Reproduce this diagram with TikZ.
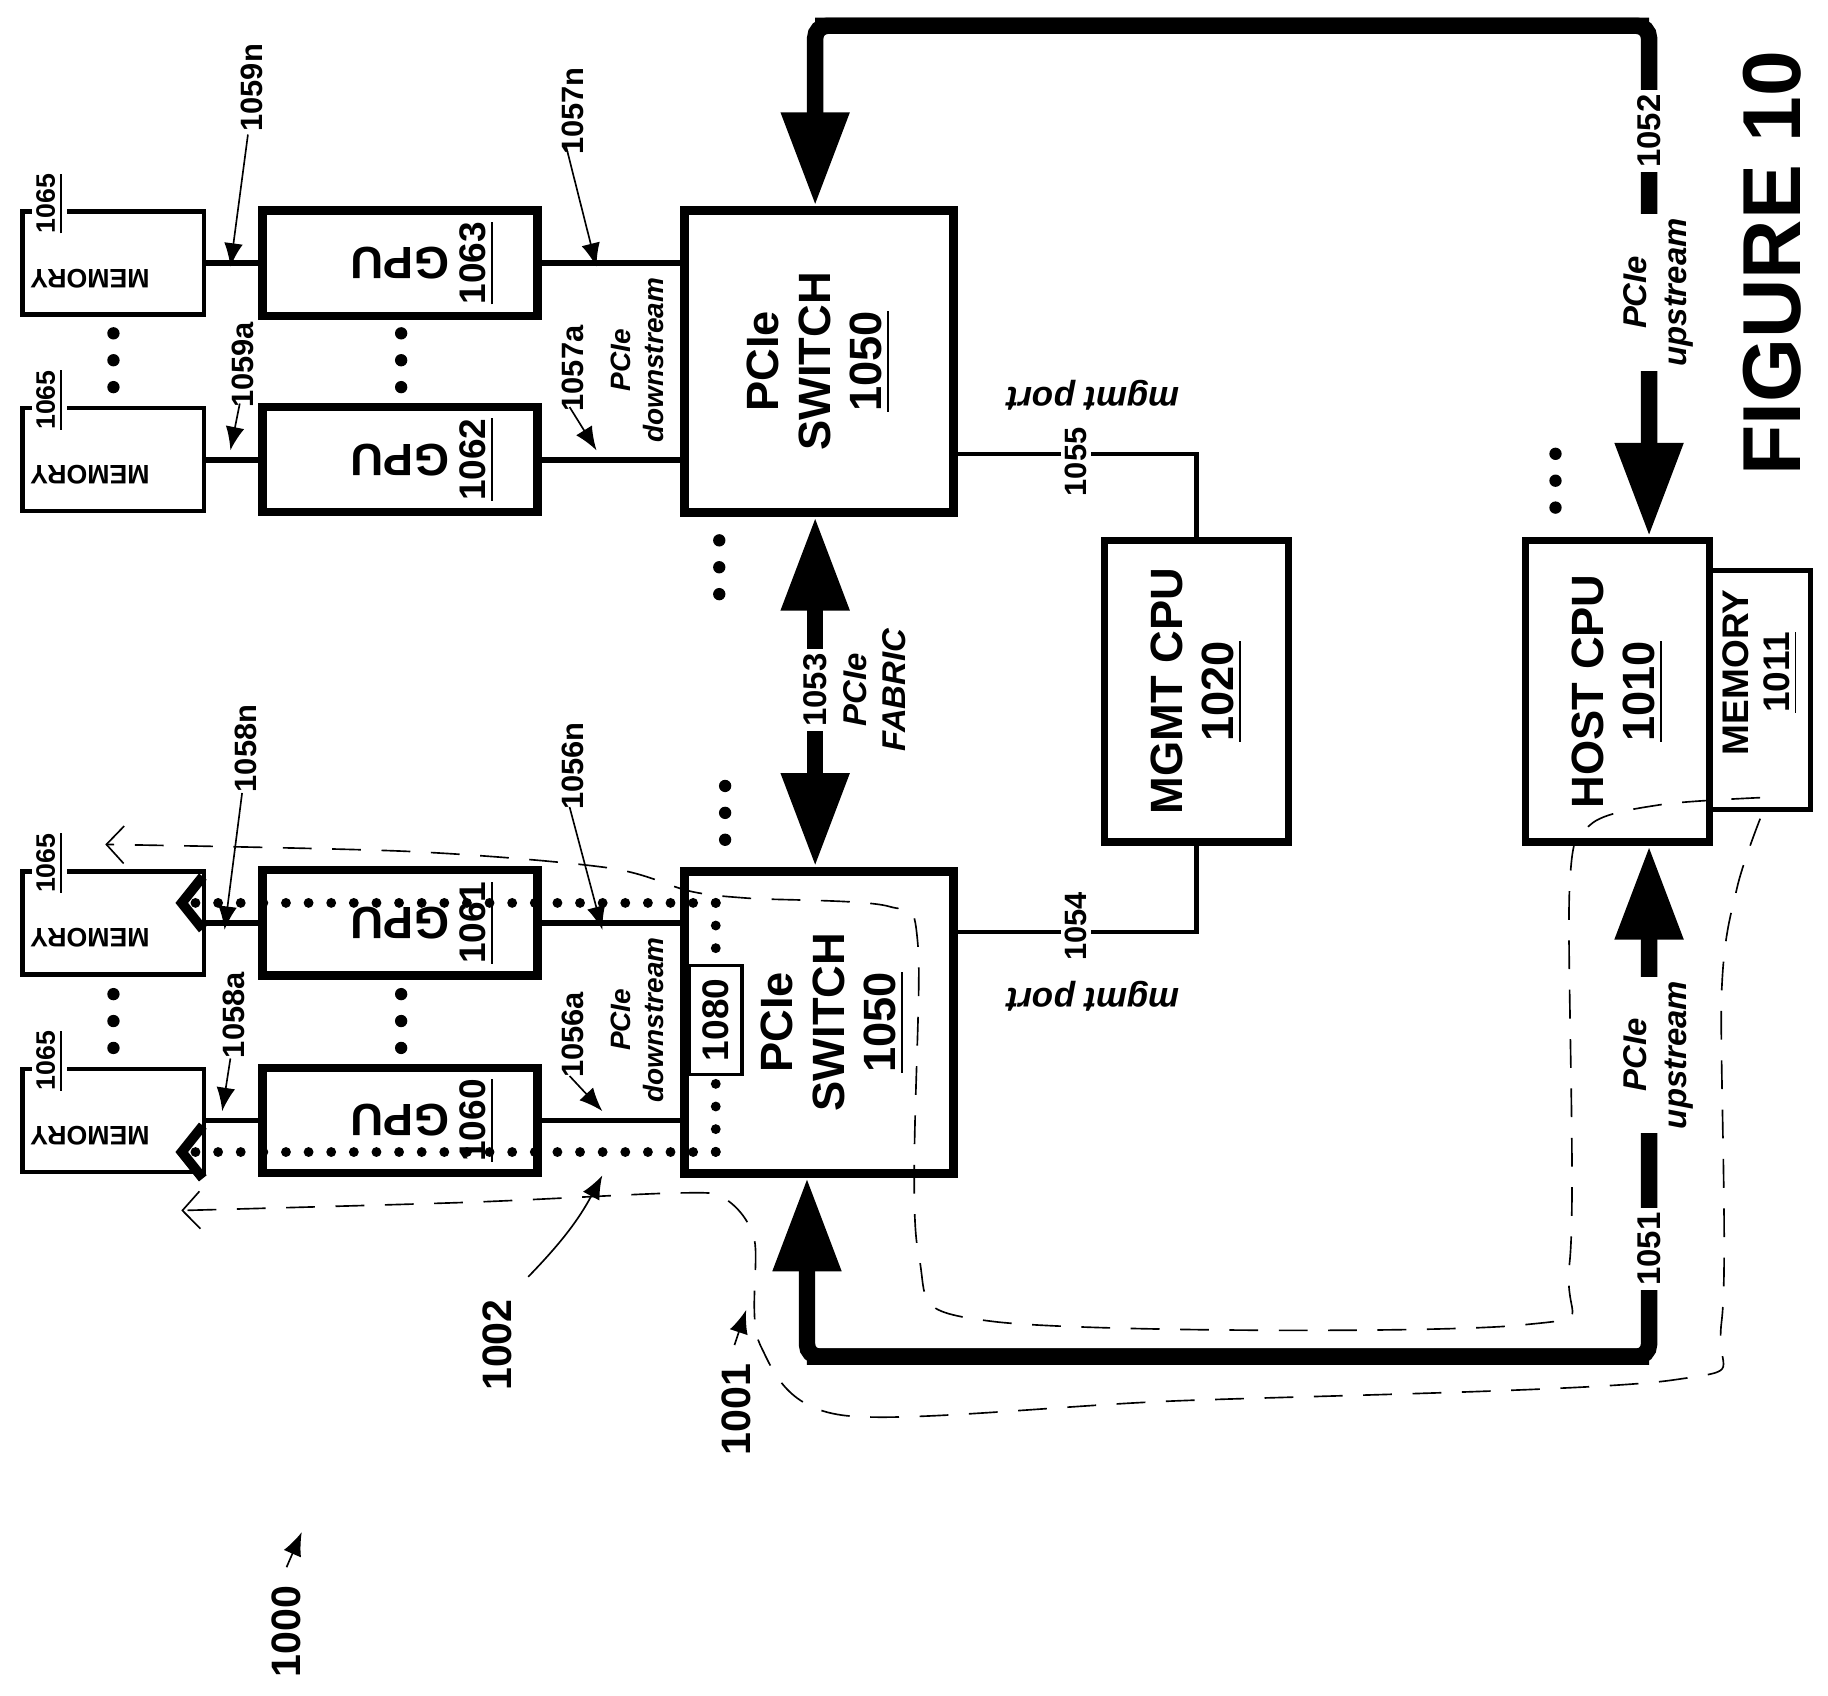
\documentclass[tikz,border=0pt]{standalone}
\usepackage{fontspec}
\setmainfont{Liberation Sans}
\usetikzlibrary{arrows.meta,positioning}

\tikzset{
  gpu/.style={draw, line width=2pt, minimum width=2.35cm, minimum height=0.9cm, inner sep=0pt},
  mem/.style={draw, line width=1.1pt, minimum width=1.55cm, minimum height=0.88cm, inner sep=0pt},
  switch/.style={draw, line width=2.2pt, minimum width=2.3cm, minimum height=2.58cm, inner sep=0pt},
  cpu/.style={draw, line width=1.8pt, minimum width=1.57cm, minimum height=2.58cm, inner sep=0pt},
  link/.style={line width=1.4pt},
  mlink/.style={line width=1pt},
  bus/.style={line width=4pt},
  bighead/.style={-{Triangle[length=0.8cm,width=0.55cm]}},
  ref/.style={font=\bfseries\fontsize{7.5}{8}\selectfont, inner sep=1pt},
  lbl/.style={font=\bfseries\itshape\fontsize{6.8}{7.8}\selectfont, align=center, inner sep=1pt},
  big/.style={font=\bfseries\fontsize{11}{12.5}\selectfont, align=center},
  pointer/.style={thin, -{Latex[length=2mm,width=1.6mm]}},
  flow/.style={thin, dash pattern=on 7pt off 5pt, -{Straight Barb[length=1.5mm,width=3.2mm]}},
  dotflow/.style={line width=2.4pt, dash pattern=on 0pt off 5.5pt, line cap=round},
  dot/.style={circle, fill, inner sep=0pt, minimum size=3pt}
}

\begin{document}
\begin{tikzpicture}[x=0.01cm, y=-0.01cm]
\useasboundingbox (0,0) rectangle (1563,1450);

% memories, GPUs and switches
\foreach \n/\y in {m3/225, m2/393, m1/789, m0/958}
  \node[mem] (\n) at (97,\y) {};
\foreach \n/\y/\num in {g3/225/1063, g2/393/1062, g1/789/1061, g0/958/1060}{
  \node[gpu] (\n) at (342,\y) {};
  \node[big, rotate=180] at (342,\y) {GPU};
  \node[rotate=90, font=\bfseries\fontsize{9}{10}\selectfont] at (408,\y) {\underline{\num}};
}
\foreach \n in {m3,m2,m1,m0}{
  \node[font=\bfseries\fontsize{6.5}{7}\selectfont, rotate=180] at ([xshift=-0.2cm,yshift=-0.13cm]\n.center) {MEMORY};
  \node[ref, fill=white, rotate=90, font=\bfseries\fontsize{6.5}{7}\selectfont] at ([xshift=0.25cm,yshift=0.05cm]\n.north west) {\underline{1065}};
}
\node[switch] (s1) at (700,309) {};
\node[switch] (s0) at (700,874) {};
\node[big, rotate=90] at (700,309) {PCIe\\SWITCH\\\underline{1050}};
\node[big, rotate=90] at (712,874) {PCIe\\SWITCH\\\underline{1050}};

\node[cpu] (mgmt) at (1023,591) {};
\node[big, rotate=90] at (1023,591) {MGMT CPU\\\underline{1020}};
\node[draw, line width=1.1pt, minimum width=0.86cm, minimum height=2.04cm] (hmem) at (1505,590) {};
\node[cpu, fill=white] (host) at (1383,591) {};
\node[big, rotate=90] at (1383,591) {HOST CPU\\\underline{1010}};
\node[font=\bfseries\fontsize{9}{10}\selectfont, rotate=90, align=center] at (1505,575) {MEMORY\\\underline{1011}};

% links
\foreach \g/\m in {g3/m3, g2/m2, g1/m1, g0/m0}{
  \draw[link] (\g.west) -- (\m.east);
}
\foreach \g/\s/\y in {g3/s1/225, g2/s1/393, g1/s0/789, g0/s0/958}{
  \draw[link] (\g.east) -- (\s.west |- 0,\y);
}
\draw[mlink] (s1.east |- 0,388) -| (mgmt.north);
\draw[mlink] (s0.east |- 0,797) -| (mgmt.south);
\node[ref, fill=white, rotate=90] at (920,395) {1055};
\node[ref, fill=white, rotate=90] at (920,792) {1054};
\node[lbl, rotate=180, font=\bfseries\itshape\fontsize{8.5}{9}\selectfont] at (935,338) {mgmt port};
\node[lbl, rotate=180, font=\bfseries\itshape\fontsize{8.5}{9}\selectfont] at (935,852) {mgmt port};

% buses
\coordinate (tl) at (697,22);
\coordinate (tr) at (1410,22);
\coordinate (bl) at (690,1160);
\coordinate (br) at (1410,1160);
\draw[bus, bighead, rounded corners=3pt] (tr) -- (tl) -- (s1.north -| tl);
\draw[bus, bighead, rounded corners=3pt] (tl) -- (tr) -- (host.north -| tr);
\draw[bus, bighead, rounded corners=3pt] (br) -- (bl) -- (s0.south -| bl);
\draw[bus, bighead, rounded corners=3pt] (bl) -- (br) -- (host.south -| br);
\draw[bus, {Triangle[length=0.8cm,width=0.55cm]}-{Triangle[length=0.8cm,width=0.55cm]}] (s1.south -| tl) -- (s0.north -| tl);
\node[ref, fill=white, rotate=90, font=\bfseries\fontsize{8}{9}\selectfont] at (1410,112) {1052};
\node[ref, fill=white, rotate=90, font=\bfseries\fontsize{8}{9}\selectfont] at (1410,1068) {1051};
\node[ref, fill=white, rotate=90, font=\bfseries\fontsize{8}{9}\selectfont] at (697,590) {1053};
\node[lbl, fill=white, rotate=90, font=\bfseries\itshape\fontsize{8}{9.5}\selectfont, minimum width=1.25cm] at (1418,250) {PCIe\\upstream};
\node[lbl, fill=white, rotate=90, font=\bfseries\itshape\fontsize{8}{9.5}\selectfont, minimum width=1.25cm] at (1418,902) {PCIe\\upstream};
\node[lbl, rotate=90, font=\bfseries\itshape\fontsize{8}{9.5}\selectfont] at (748,590) {PCIe\\FABRIC};
\node[lbl, rotate=90] at (545,308) {PCIe\\downstream};
\node[lbl, rotate=90] at (545,872) {PCIe\\downstream};

% ellipsis dots
\foreach \x/\y in {97/285, 343/285, 97/850, 343/850, 615/462, 620/672, 1330/388}{
  \foreach \d in {0,23,46} \node[dot] at (\x,\y+\d) {};
}

% reference pointers
\foreach \t/\tx/\ty/\ax/\ay/\bx/\by in {
  1059n/215/75/212/115/197/228, 1057n/490/95/484/125/510/228,
  1059a/208/312/205/345/197/385, 1057a/490/315/487/348/510/385,
  1058n/210/640/207/678/192/795, 1056n/490/655/487/690/515/795,
  1058a/200/868/197/905/190/950, 1056a/490/885/487/920/515/950}{
  \node[ref, rotate=90] (r\t) at (\tx,\ty) {\t};
  \draw[pointer] (\ax,\ay) -- (\bx,\by);
}

% data paths
\draw[dotflow] (612,772) -- (612,985);
\draw[dotflow, -{Straight Barb[length=1.8mm,width=4.5mm]}] (612,772) -- (150,772);
\draw[dotflow, -{Straight Barb[length=1.8mm,width=4.5mm]}] (612,985) -- (150,985);
\draw[flow] plot[smooth, tension=0.5] coordinates {(1505,682) (1420,688) (1360,705) (1342,760) (1342,1080) (1300,1133) (850,1130) (785,1070) (785,810) (760,775) (640,768) (590,762) (520,742) (350,728) (90,722)};
\draw[flow] plot[smooth, tension=0.5] coordinates {(1505,700) (1485,760) (1472,850) (1472,1130) (1430,1180) (1000,1198) (720,1210) (650,1150) (645,1060) (620,1025) (580,1020) (400,1028) (155,1035)};

\node[draw, thick, minimum width=0.45cm, minimum height=0.93cm, fill=white] (p1080) at (612,872) {};
\node[font=\bfseries\fontsize{9}{10}\selectfont, rotate=90] at (p1080) {1080};

% figure labels
\node[ref, rotate=90, font=\bfseries\fontsize{10}{11}\selectfont] (n1002) at (425,1150) {1002};
\draw[pointer] (n1002.south east) ++(10,-15) to[bend right=8] (515,1005);
\node[ref, rotate=90, font=\bfseries\fontsize{10}{11}\selectfont] (n1001) at (630,1205) {1001};
\draw[pointer] (628,1150) -- (638,1120);
\node[ref, rotate=90, font=\bfseries\fontsize{10}{11}\selectfont] (n1000) at (245,1395) {1000};
\draw[pointer] (245,1340) -- (258,1310);
\node[rotate=90, font=\bfseries\fontsize{20}{22}\selectfont] at (1515,225) {FIGURE 10};
\end{tikzpicture}
\end{document}
